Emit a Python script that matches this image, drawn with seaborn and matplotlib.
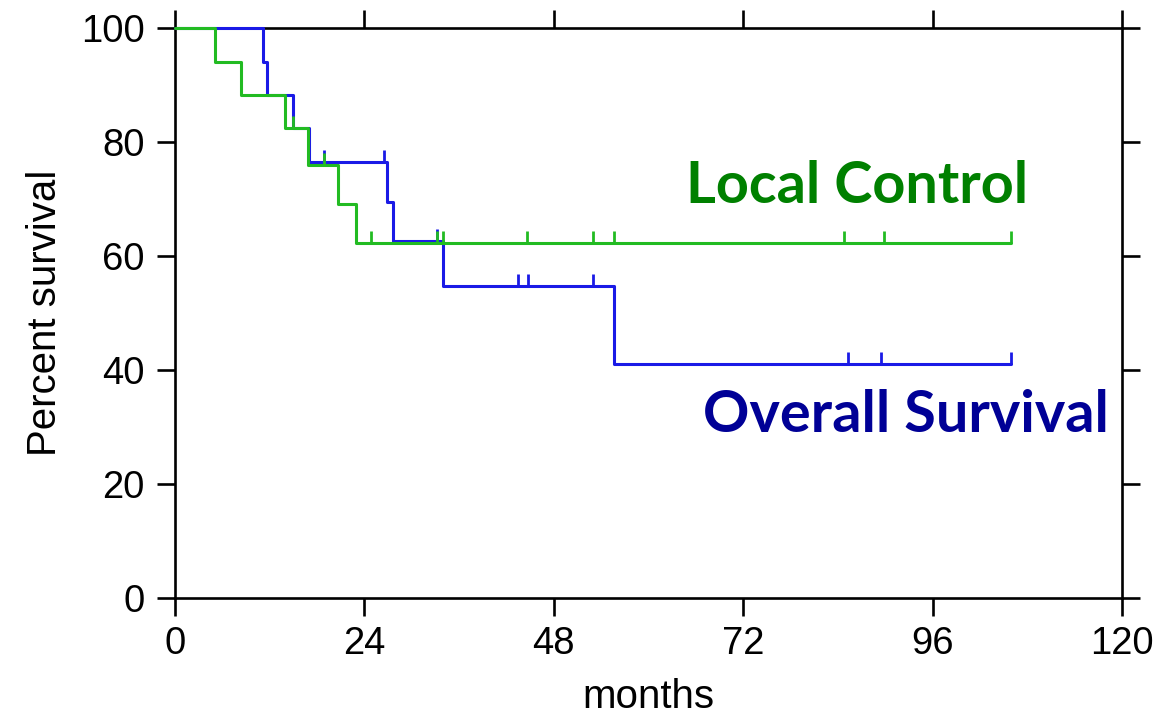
import numpy as np
import pandas as pd
import matplotlib
matplotlib.use("Agg")
import matplotlib.pyplot as plt
import seaborn as sns

# Kaplan-Meier step estimates (months, percent surviving)
os_step_months = [0, 11.2, 11.6, 15.0, 17.0, 26.8, 27.6, 33.9, 55.6]
os_step_pct = [100, 94.1, 88.2, 82.4, 76.5, 69.5, 62.6, 54.7, 41.0]
os_censor_months = [18.9, 26.5, 33.2, 43.4, 44.7, 53.0, 85.3, 89.5, 106.0]

lc_step_months = [0, 5.0, 8.3, 13.9, 16.9, 20.7, 22.9]
lc_step_pct = [100, 94.1, 88.2, 82.4, 76.0, 69.1, 62.2]
lc_censor_months = [15.0, 18.9, 24.8, 33.2, 33.9, 44.6, 53.0, 55.6, 84.8, 89.9, 106.0]

follow_up_end = 106.0

x_ticks = [0, 24, 48, 72, 96, 120]
y_ticks = [0, 20, 40, 60, 80, 100]

OS_COLOR = "#1a1ae6"
LC_COLOR = "#22bb22"

sns.set_theme(style="white")
plt.rcParams["font.family"] = ["Liberation Sans", "DejaVu Sans"]


def curve_frame(months, pct, end, name):
    m = list(months) + [end]
    p = list(pct) + [pct[-1]]
    return pd.DataFrame({"months": m, "pct": p, "curve": name})


def level_at(months, pct, t):
    idx = np.searchsorted(np.asarray(months), t, side="right") - 1
    return np.asarray(pct)[idx]


df = pd.concat([
    curve_frame(os_step_months, os_step_pct, follow_up_end, "Overall Survival"),
    curve_frame(lc_step_months, lc_step_pct, follow_up_end, "Local Control"),
], ignore_index=True)

fig = plt.figure(figsize=(11.57, 7.21), dpi=100)
ax = fig.add_axes([0.1513, 0.1706, 0.8184, 0.7906])

sns.lineplot(data=df, x="months", y="pct", hue="curve",
             palette={"Overall Survival": OS_COLOR, "Local Control": LC_COLOR},
             hue_order=["Overall Survival", "Local Control"],
             drawstyle="steps-post", linewidth=2.2, legend=False, ax=ax,
             estimator=None, sort=False)
for ln in ax.lines:
    ln.set_clip_on(False)
    ln.set_zorder(5)

# censoring marks (upward ticks)
for months, pct, cens, col in [
    (os_step_months, os_step_pct, os_censor_months, OS_COLOR),
    (lc_step_months, lc_step_pct, lc_censor_months, LC_COLOR),
]:
    lv = [level_at(months, pct, t) for t in cens]
    ax.plot(cens, lv, linestyle="none", marker=2, markersize=9,
            markeredgewidth=2.0, color=col, zorder=5, clip_on=False)

ax.set_xlim(0, 120)
ax.set_ylim(0, 100)
ax.set_xticks(x_ticks)
ax.set_yticks(y_ticks)
ax.set_xticklabels([str(v) for v in x_ticks])
ax.set_yticklabels([str(v) for v in y_ticks])

for s in ax.spines.values():
    s.set_visible(True)
    s.set_color("black")
    s.set_linewidth(1.9)
    s.set_zorder(3)

ax.tick_params(axis="both", which="major", direction="out", length=13,
               width=1.9, color="black", labelsize=27.5, labelcolor="black",
               top=True, right=True, bottom=True, left=True, pad=7)
ax.tick_params(axis="y", pad=9)

ax.set_xlabel("months", fontsize=29, labelpad=12, color="black")
ax.set_ylabel("Percent survival", fontsize=29, labelpad=12, color="black")

ax.text(64.8, 69.3, "Local Control", color="#008000", fontsize=41.5,
        fontweight="bold", family=["Lato", "DejaVu Sans"],
        ha="left", va="baseline")
ax.text(66.9, 29.1, "Overall Survival", color="#000096", fontsize=41.5,
        fontweight="bold", family=["Lato", "DejaVu Sans"],
        ha="left", va="baseline")

fig.savefig("out.png", dpi=100, facecolor="white")
